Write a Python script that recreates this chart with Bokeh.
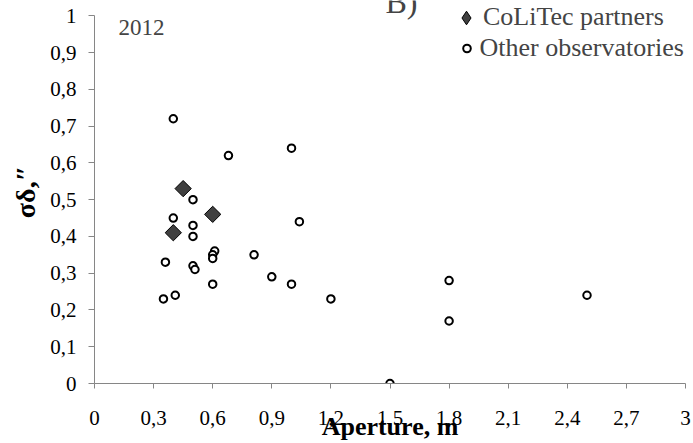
import numpy as np
from bokeh.plotting import figure
from bokeh.models import (Range1d, FixedTicker, CustomJSTickFormatter, Label,
                          Legend, LegendItem, ColumnDataSource)
from bokeh.embed import file_html
from bokeh.resources import INLINE

# Aperture (m) and declination residual sigma (arcsec), 2012
colitec_aperture = [0.45, 0.60, 0.40]
colitec_sigma = [0.53, 0.46, 0.41]

other_aperture = [0.40, 0.68, 1.00, 0.50, 0.40, 1.04, 0.50, 0.50, 0.61, 0.60,
                  0.60, 0.81, 0.36, 0.50, 0.51, 0.90, 0.60, 1.00, 0.35, 0.41,
                  1.20, 1.80, 2.50, 1.80, 1.50]
other_sigma = [0.72, 0.62, 0.64, 0.50, 0.45, 0.44, 0.43, 0.40, 0.36, 0.35,
               0.34, 0.35, 0.33, 0.32, 0.31, 0.29, 0.27, 0.27, 0.23, 0.24,
               0.23, 0.28, 0.24, 0.17, 0.00]

x_ticks = [0, 0.3, 0.6, 0.9, 1.2, 1.5, 1.8, 2.1, 2.4, 2.7, 3]
x_tick_labels = ["0", "0,3", "0,6", "0,9", "1,2", "1,5", "1,8", "2,1", "2,4", "2,7", "3"]
y_ticks = [0, 0.1, 0.2, 0.3, 0.4, 0.5, 0.6, 0.7, 0.8, 0.9, 1]
y_tick_labels = ["0", "0,1", "0,2", "0,3", "0,4", "0,5", "0,6", "0,7", "0,8", "0,9", "1"]

SERIF = "'Liberation Serif', 'Times New Roman', Tinos, serif"
AXIS_GRAY = "#868686"

# frame runs to the top edge so the panel letter and legend can sit above y=1
p = figure(width=693, height=443, output_backend="svg", toolbar_location=None,
           x_range=Range1d(0, 3), y_range=Range1d(0, 1 + 15.3 / 368.0),
           min_border_left=94, min_border_right=8,
           min_border_top=0, min_border_bottom=60)
p.outline_line_color = None
p.xgrid.visible = False
p.ygrid.visible = False

fmt_code = """
const i = tick_vals.findIndex(t => Math.abs(t - tick) < 1e-9);
return i >= 0 ? tick_texts[i] : String(tick);
"""

for ax, vals, texts in ((p.xaxis[0], x_ticks, x_tick_labels),
                        (p.yaxis[0], y_ticks, y_tick_labels)):
    ax.ticker = FixedTicker(ticks=vals)
    ax.formatter = CustomJSTickFormatter(args=dict(tick_vals=vals, tick_texts=texts),
                                         code=fmt_code)
    ax.bounds = (vals[0], vals[-1])
    ax.minor_tick_line_color = None
    ax.axis_line_color = AXIS_GRAY
    ax.major_tick_line_color = AXIS_GRAY
    ax.major_tick_in = 0
    ax.major_label_text_font = SERIF
    ax.major_label_text_font_size = "21px"
    ax.major_label_text_color = "black"
    ax.axis_label_text_font = SERIF
    ax.axis_label_text_font_style = "bold"
    ax.axis_label_text_color = "black"

p.xaxis.major_tick_out = 5
p.xaxis.major_label_standoff = 22
p.xaxis.axis_label = "Aperture, m"
p.xaxis.axis_label_text_font_size = "26px"
p.xaxis.axis_label_text_line_height = 0.85
p.xaxis.axis_label_standoff = -16

p.yaxis.major_tick_out = 6
p.yaxis.major_label_standoff = 12
p.yaxis.axis_label = "σδ,″"
p.yaxis.axis_label_text_font_size = "28px"
p.yaxis.axis_label_standoff = 6

src_other = ColumnDataSource(dict(x=other_aperture, y=other_sigma))
src_col = ColumnDataSource(dict(x=colitec_aperture, y=colitec_sigma))

r_other = p.scatter("x", "y", source=src_other, marker="circle", size=7.5,
                    fill_color="white", line_color="black", line_width=2)
# legend key for the partners: legend keys are drawn unrotated, so a diamond
# marker of zero size on the same points supplies the key shape
r_col_key = p.scatter("x", "y", source=src_col, marker="diamond", size=0,
                      fill_color="#404040", line_color="black", line_width=1)
r_col = p.scatter("x", "y", source=src_col, marker="square", angle=np.pi / 4,
                  size=11.5, fill_color="#404040", line_color="black",
                  line_width=1)

common = dict(orientation="vertical", padding=0, margin=0, spacing=0,
              label_text_font=SERIF, label_text_font_size="26px",
              background_fill_alpha=0, border_line_alpha=0)

legend_col = Legend(items=[LegendItem(label="CoLiTec partners", renderers=[r_col_key])],
                    location=(355, 343.5), glyph_width=34, glyph_height=45,
                    label_height=45, label_standoff=0, **common)
legend_other = Legend(items=[LegendItem(label="Other observatories", renderers=[r_other])],
                      location=(362.5, 320), glyph_width=19, glyph_height=30,
                      label_height=30, label_standoff=4, **common)
p.add_layout(legend_col, "center")
p.add_layout(legend_other, "center")

p.add_layout(Label(x=0.122, y=0.967, text="2012", text_font=SERIF,
                   text_font_size="23px", text_baseline="middle"))
p.add_layout(Label(x=1.477, y=1.038, text="B)", text_font=SERIF,
                   text_font_size="32px", text_baseline="middle"))

open("out.html", "w").write(file_html(p, INLINE))
